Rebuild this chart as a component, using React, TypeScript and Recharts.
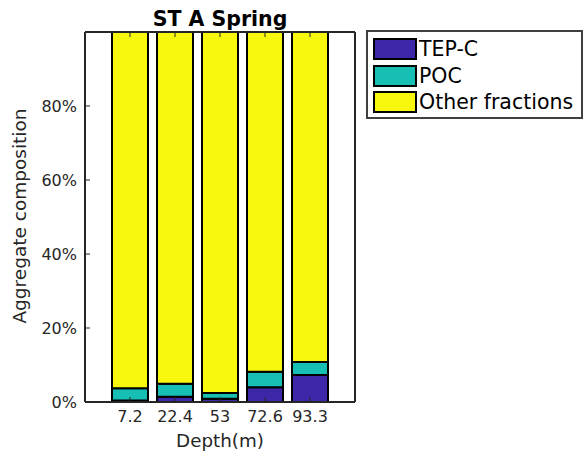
import React from 'react';
import { BarChart, Bar, XAxis, YAxis } from 'recharts';

// depth labels and stacked composition (%)
const depths = ['7.2', '22.4', '53', '72.6', '93.3'];
const tepC = [0.4, 1.4, 0.9, 4.0, 7.3];
const poc = [3.3, 3.5, 1.5, 4.2, 3.5];
const otherFractions = [96.3, 95.1, 97.6, 91.8, 89.2];
const yTicks = [0, 20, 40, 60, 80];

const colors = { tep: '#3E26A8', poc: '#17BEB4', other: '#F8F80F' };
const axisColor = '#262626';
const font = 'DejaVu Sans, sans-serif';

const legendItems = [
  { name: 'TEP-C', color: colors.tep },
  { name: 'POC', color: colors.poc },
  { name: 'Other fractions', color: colors.other },
];

const EmptyTick = () => <g />;

export default function App() {
  const data = depths.map((d, i) => ({
    depth: d,
    tep: tepC[i],
    poc: poc[i],
    other: otherFractions[i],
  }));

  const tickStyle = { fontSize: 16, fill: axisColor, fontFamily: font };

  return (
    <div style={{ position: 'absolute', left: 0, top: 0, width: 585, height: 451, background: '#fff', fontFamily: font }}>
      <div
        style={{
          position: 'absolute',
          left: 85,
          width: 270,
          top: 7,
          textAlign: 'center',
          fontWeight: 'bold',
          fontSize: 20.5,
          lineHeight: '24px',
          color: '#000',
        }}
      >
        ST A Spring
      </div>
      {/* y axis title, rotated */}
      <div
        style={{
          position: 'absolute',
          left: 20,
          top: 216,
          transform: 'translate(-50%, -50%) rotate(-90deg)',
          whiteSpace: 'nowrap',
          fontSize: 18.5,
          lineHeight: '20px',
          color: axisColor,
        }}
      >
        Aggregate composition
      </div>
      <BarChart
        width={585}
        height={451}
        data={data}
        margin={{ top: 31, right: 229, bottom: 19, left: 25 }}
        barCategoryGap="10%"
      >
        <XAxis
          dataKey="depth"
          xAxisId="bottom"
          height={30}
          padding={{ left: 22.5, right: 22.5 }}
          tick={tickStyle}
          tickSize={-5}
          tickMargin={14}
          axisLine={{ stroke: axisColor, strokeWidth: 2 }}
          tickLine={{ stroke: axisColor }}
          label={{ value: 'Depth(m)', position: 'insideBottom', offset: -15, fontSize: 18.3, fill: axisColor, fontFamily: font }}
        />
        <XAxis
          dataKey="depth"
          xAxisId="top"
          orientation="top"
          height={1}
          padding={{ left: 22.5, right: 22.5 }}
          tick={EmptyTick}
          tickSize={-5}
          axisLine={{ stroke: axisColor, strokeWidth: 2 }}
          tickLine={{ stroke: axisColor }}
        />
        <YAxis
          yAxisId="left"
          width={60}
          domain={[0, 100]}
          ticks={yTicks}
          tickFormatter={(v) => `${v}%`}
          tick={tickStyle}
          tickSize={-5}
          tickMargin={13}
          axisLine={{ stroke: axisColor, strokeWidth: 2 }}
          tickLine={{ stroke: axisColor }}
        />
        <YAxis
          yAxisId="right"
          orientation="right"
          width={1}
          domain={[0, 100]}
          ticks={yTicks}
          tick={EmptyTick}
          tickSize={-5}
          axisLine={{ stroke: axisColor, strokeWidth: 2 }}
          tickLine={{ stroke: axisColor }}
        />
        <Bar dataKey="tep" stackId="a" xAxisId="bottom" yAxisId="left" fill={colors.tep} stroke="#000" strokeWidth={2} isAnimationActive={false} />
        <Bar dataKey="poc" stackId="a" xAxisId="bottom" yAxisId="left" fill={colors.poc} stroke="#000" strokeWidth={2} isAnimationActive={false} />
        <Bar dataKey="other" stackId="a" xAxisId="bottom" yAxisId="left" fill={colors.other} stroke="#000" strokeWidth={2} isAnimationActive={false} />
      </BarChart>
      <div
        style={{
          position: 'absolute',
          left: 366,
          top: 30,
          width: 213,
          height: 81,
          border: '2px solid #404040',
          background: '#fff',
          paddingTop: 4,
          boxSizing: 'content-box',
        }}
      >
        {legendItems.map((item) => (
          <div key={item.name} style={{ display: 'flex', alignItems: 'center', height: 26.5, marginLeft: 5 }}>
            <div
              style={{
                width: 40,
                height: 18,
                background: item.color,
                border: '2px solid #000',
                marginRight: 2,
                flexShrink: 0,
              }}
            />
            <span style={{ fontSize: 20.5, color: '#000', lineHeight: '22px', whiteSpace: 'nowrap' }}>{item.name}</span>
          </div>
        ))}
      </div>
    </div>
  );
}
